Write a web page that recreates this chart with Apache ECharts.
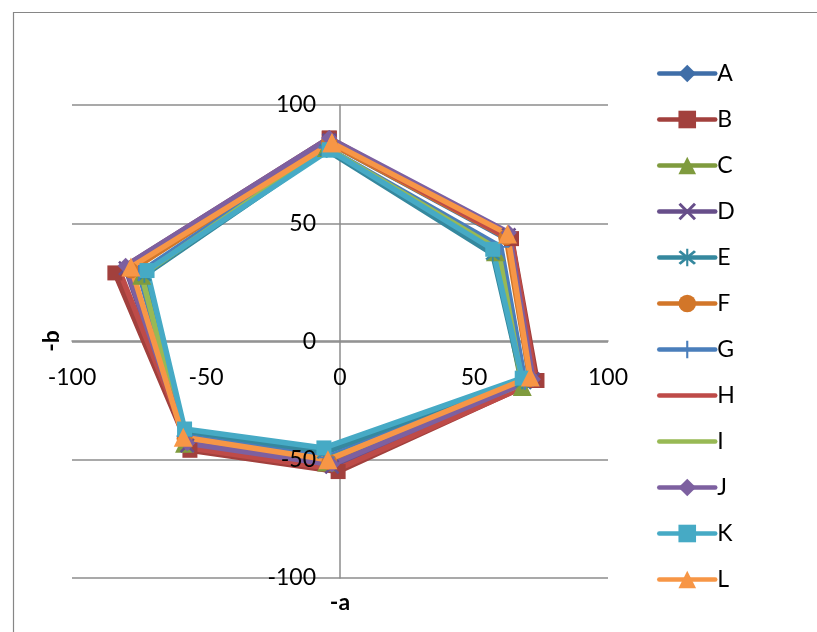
<!DOCTYPE html>
<html>
<head>
<meta charset="utf-8">
<script src="https://cdn.jsdelivr.net/npm/echarts@6/dist/echarts.min.js"></script>
<style>
html,body{margin:0;padding:0;background:#fff;}
#chart{width:817px;height:632px;}
</style>
</head>
<body>
<div id="chart"></div>
<script>
// ---- data (a*, b*): closed hexagons ----
const seriesNames = ['A','B','C','D','E','F','G','H','I','J','K','L'];
const xTicks = [-100, -50, 0, 50, 100];
const yTicks = [-100, -50, 0, 50, 100];

const dataA = [[-4,84],[63,43],[71,-17],[-3,-52],[-57,-43],[-79,30],[-4,84]];
const dataB = [[-4,86],[64,43.5],[73.5,-16.5],[-0.7,-55],[-56,-46],[-84,29],[-4,86]];
const dataC = [[-5,82],[58,38],[68,-19],[-5,-51],[-58,-43],[-74,28],[-5,82]];
const dataD = [[-4,85],[63,45],[72,-16],[-3,-53],[-57,-44],[-80,31],[-4,85]];
const dataE = [[-5,81],[57,37],[68,-17],[-6,-47],[-58,-38],[-73,28],[-5,81]];
const dataF = [[-4,84],[62,44],[71,-16],[-4,-51],[-58,-41],[-78,30],[-4,84]];
const dataG = [[-5,82],[60,40],[69,-17],[-5,-49],[-58,-40],[-75,29],[-5,82]];
const dataH = [[-4,85],[64,43],[73,-17],[-1,-54],[-56,-45],[-82,29],[-4,85]];
const dataI = [[-5,82],[59,39],[68,-18],[-5,-50],[-58,-42],[-74,28],[-5,82]];
const dataJ = [[-4,86],[63,46],[72,-16],[-3,-52],[-57,-43],[-80,32],[-4,86]];
const dataK = [[-4,81],[57,39],[68,-15.5],[-6,-45],[-58,-37],[-72,30],[-4,81]];
const dataL = [[-3,84],[62.5,45.5],[71,-15],[-4.5,-50],[-58.5,-40.5],[-78,31.5],[-3,84]];

const allData = [dataA,dataB,dataC,dataD,dataE,dataF,dataG,dataH,dataI,dataJ,dataK,dataL];

// ---- styling ----
const colors = ['#3F6EA8','#A2403D','#7F9B3E','#674E8A','#35889E','#D27629',
                '#4A7EBB','#BE4B48','#98B954','#7D60A0','#46AAC5','#F79646'];
const X_PATH = 'path://M0,1.2 L1.2,0 L5,3.8 L8.8,0 L10,1.2 L6.2,5 L10,8.8 L8.8,10 L5,6.2 L1.2,10 L0,8.8 L3.8,5 Z';
const STAR_PATH = 'path://M0,1.2 L1.2,0 L5,3.8 L8.8,0 L10,1.2 L6.2,5 L10,8.8 L8.8,10 L5,6.2 L1.2,10 L0,8.8 L3.8,5 Z M4.4,-1 L5.6,-1 L5.6,11 L4.4,11 Z';
const PLUS_PATH = 'path://M4.4,0 L5.6,0 L5.6,4.4 L10,4.4 L10,5.6 L5.6,5.6 L5.6,10 L4.4,10 L4.4,5.6 L0,5.6 L0,4.4 L4.4,4.4 Z';
const symbols = ['diamond','rect','triangle',X_PATH,STAR_PATH,'circle',PLUS_PATH,null,null,'diamond','rect','triangle'];
const symbolSizes = [16,15,19,15,15,16,16,0,0,16,15,19];

const FONT = 'Lato';
const GRID_COL = '#8c8c8c';

const chart = echarts.init(document.getElementById('chart'), null, {renderer:'canvas'});

const series = seriesNames.map((n,i)=>{
  const noMark = symbols[i] === null;
  return {
    name:n,
    type:'line',
    z:2,
    xAxisIndex:0, yAxisIndex:0,
    data:allData[i],
    symbol: noMark ? 'circle' : symbols[i],
    symbolSize: noMark ? 1 : symbolSizes[i],
    showSymbol: !noMark,
    lineStyle:{width:5.5, color:colors[i], cap:'round', join:'round'},
    itemStyle: noMark ? {color:'rgba(0,0,0,0)', borderWidth:0, opacity:0} : {color:colors[i]},
    emphasis:{disabled:true},
    animation:false
  };
});

const labelStyle = {color:'#000', fontFamily:FONT, fontSize:23, hideOverlap:false,
                    showMinLabel:true, showMaxLabel:true};

chart.setOption({
  animation:false,
  color:colors,
  grid:{left:72, right:209, top:105, bottom:54, containLabel:false},
  xAxis:[{
    type:'value', min:-100, max:100, interval:50,
    position:'bottom', offset:-237,
    axisLine:{onZero:false, lineStyle:{color:GRID_COL, width:1.5}},
    axisTick:{show:false},
    splitLine:{show:false},
    axisLabel:Object.assign({margin:25,
      formatter:(v)=> xTicks.includes(v) ? String(v) : ''}, labelStyle)
  }],
  yAxis:[{
    type:'value', min:-100, max:100, interval:50,
    position:'left', offset:-268,
    axisLine:{show:true, onZero:false, lineStyle:{color:GRID_COL, width:1.5}},
    axisTick:{show:false},
    splitLine:{show:true, lineStyle:{color:GRID_COL, width:1.5}},
    axisLabel:{show:false}
  },{
    // label-only copy of the b axis, drawn above the lines
    type:'value', min:-100, max:100, interval:50,
    position:'right', offset:268-536, z:10, zlevel:0,
    axisLine:{show:false}, axisTick:{show:false}, splitLine:{show:false},
    axisLabel:Object.assign({margin:0, inside:false, align:'right', padding:[0,24,0,0],
      formatter:(v)=> yTicks.includes(v) ? String(v) : ''}, labelStyle)
  }],
  legend:{
    orient:'vertical', left:652, top:57,
    itemWidth:56, itemHeight:22, itemGap:23,
    lineStyle:{width:4.5, cap:'round'},
    textStyle:{fontFamily:FONT, fontSize:23, color:'#000', padding:[0,0,0,-3]},
    data:seriesNames
  },
  graphic:[
    {type:'rect', left:11, top:10, shape:{width:830, height:650},
     style:{fill:'none', stroke:'#868686', lineWidth:1.2}, silent:true, z:-1},
    {type:'text', x:52, y:341, rotation:Math.PI/2,
     style:{text:'-b', fontFamily:FONT, fontSize:23, fontWeight:'bold', fill:'#000',
            textAlign:'center', textVerticalAlign:'middle'}},
    {type:'text', x:340, y:603,
     style:{text:'-a', fontFamily:FONT, fontSize:23, fontWeight:'bold', fill:'#000',
            textAlign:'center', textVerticalAlign:'middle'}}
  ],
  series:series
});
</script>
</body>
</html>
